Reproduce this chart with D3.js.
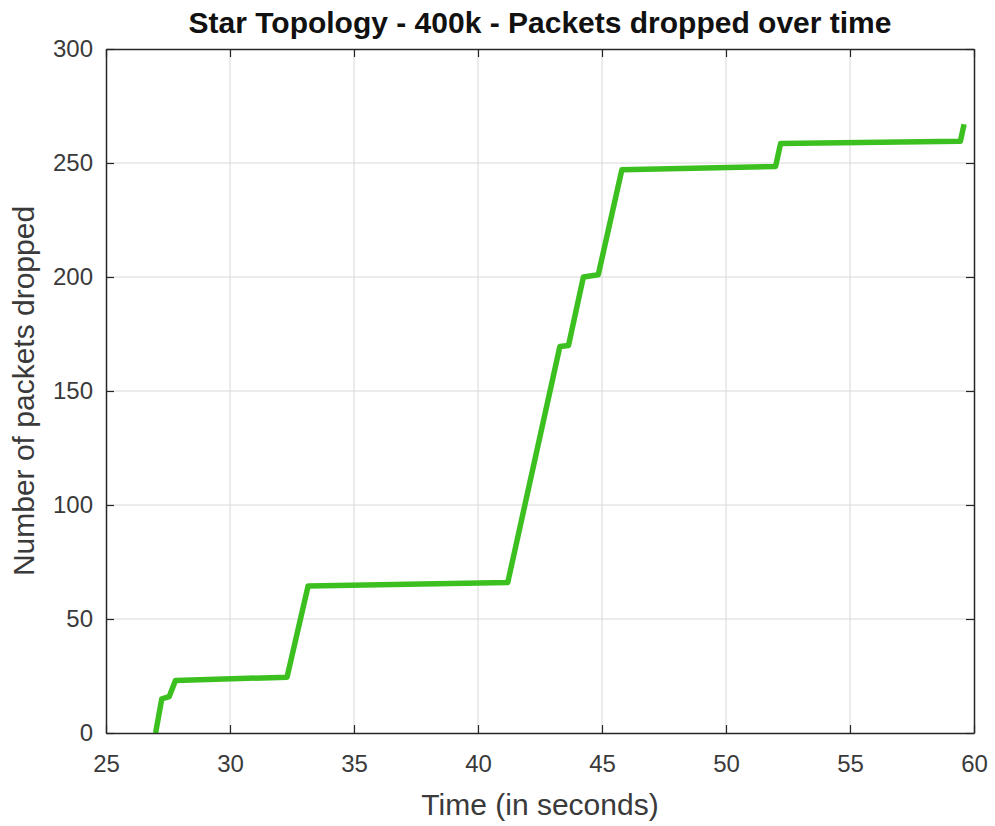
<!DOCTYPE html>
<html>
<head>
<meta charset="utf-8">
<script src="https://cdn.jsdelivr.net/npm/d3@7"></script>
<style>
  body { margin: 0; background: #fff; }
  text { font-family: "Liberation Sans", Arial, sans-serif; }
</style>
</head>
<body>
<svg id="chart" width="995" height="826"></svg>
<script>
// packets dropped over time
const times = [27.0, 27.25, 27.55, 27.8, 32.3, 33.15, 41.2, 43.3, 43.65, 44.25, 44.85, 45.8, 52.0, 52.2, 59.45, 59.6];
const dropped = [0, 15, 16, 23, 24.5, 64.5, 66, 169.5, 170, 200, 201, 247, 248.5, 258.5, 259.5, 267];
const xTicks = [25, 30, 35, 40, 45, 50, 55, 60];
const yTicks = [0, 50, 100, 150, 200, 250, 300];

const data = times.map((t, i) => ({ t: t, v: dropped[i] }));

const margin = { top: 49, right: 21, bottom: 93, left: 106 },
  width = 995 - margin.left - margin.right,
  height = 826 - margin.top - margin.bottom;

const svg = d3.select("#chart")
  .append("g")
  .attr("transform", "translate(" + margin.left + "," + margin.top + ")");

const x = d3.scaleLinear().domain([25, 60]).range([0, width]);
const y = d3.scaleLinear().domain([0, 300]).range([height, 0]);

// grid
svg.append("g").selectAll("line").data(xTicks.slice(1, -1)).enter()
  .append("line")
  .attr("x1", d => x(d)).attr("x2", d => x(d))
  .attr("y1", 0).attr("y2", height)
  .attr("stroke", "#d8d8d8").attr("stroke-width", 1);
svg.append("g").selectAll("line").data(yTicks.slice(1, -1)).enter()
  .append("line")
  .attr("y1", d => y(d)).attr("y2", d => y(d))
  .attr("x1", 0).attr("x2", width)
  .attr("stroke", "#d8d8d8").attr("stroke-width", 1);

// line
svg.append("path")
  .datum(data)
  .attr("fill", "none")
  .attr("stroke", "#3cc020")
  .attr("stroke-width", 5.5)
  .attr("stroke-linejoin", "round")
  .attr("d", d3.line().x(d => x(d.t)).y(d => y(d.v)));

// axes with inward ticks on all sides
function styleAxis(g) {
  g.select(".domain").attr("stroke", "#262626").attr("stroke-width", 1.5);
  g.selectAll(".tick line").attr("stroke", "#262626").attr("stroke-width", 1.2);
  g.selectAll(".tick text").attr("fill", "#3a3a3a").style("font-size", "24px");
}

svg.append("g")
  .attr("transform", "translate(0," + height + ")")
  .call(d3.axisBottom(x).tickValues(xTicks).tickSize(-8).tickPadding(22).tickSizeOuter(0))
  .call(styleAxis);
svg.append("g")
  .call(d3.axisTop(x).tickValues(xTicks).tickSize(-8).tickSizeOuter(0).tickFormat(""))
  .call(styleAxis);
svg.append("g")
  .call(d3.axisLeft(y).tickValues(yTicks).tickSize(-8).tickPadding(13).tickSizeOuter(0))
  .call(styleAxis);
svg.append("g")
  .attr("transform", "translate(" + width + ",0)")
  .call(d3.axisRight(y).tickValues(yTicks).tickSize(-8).tickSizeOuter(0).tickFormat(""))
  .call(styleAxis);

// title and labels
svg.append("text")
  .attr("x", width / 2)
  .attr("y", -16)
  .attr("text-anchor", "middle")
  .style("font-size", "30px")
  .style("font-weight", "bold")
  .attr("fill", "#111")
  .text("Star Topology - 400k - Packets dropped over time");

svg.append("text")
  .attr("x", width / 2)
  .attr("y", height + 82)
  .attr("text-anchor", "middle")
  .style("font-size", "30px")
  .attr("fill", "#3a3a3a")
  .text("Time (in seconds)");

svg.append("text")
  .attr("transform", "translate(-72," + height / 2 + ") rotate(-90)")
  .attr("text-anchor", "middle")
  .style("font-size", "30px")
  .attr("fill", "#3a3a3a")
  .text("Number of packets dropped");
</script>
</body>
</html>
